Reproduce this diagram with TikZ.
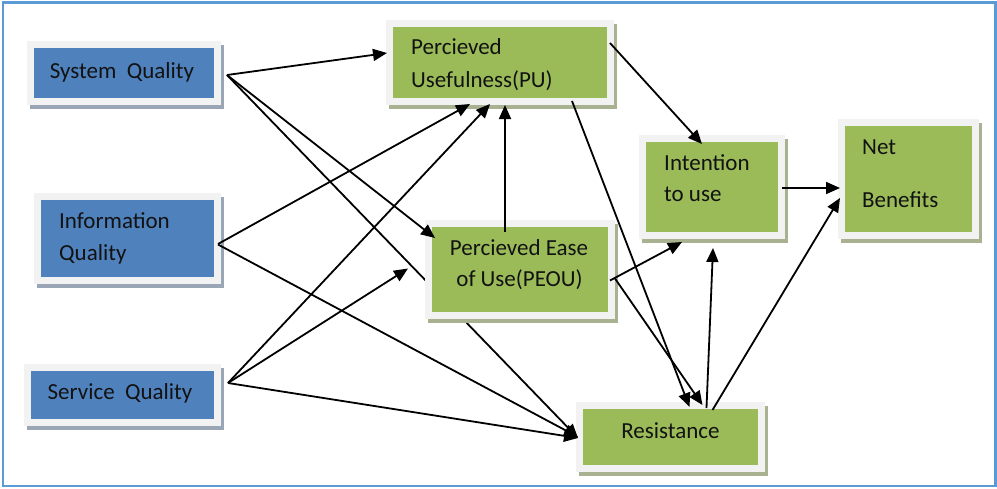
\documentclass[tikz,border=0pt]{standalone}
\usepackage{fontspec}
\setmainfont{Carlito}
\usetikzlibrary{arrows.meta,calc,backgrounds}
\definecolor{bluefill}{HTML}{4F81BD}
\definecolor{greenfill}{HTML}{9BBB59}
\definecolor{framec}{HTML}{F2F2F2}
\definecolor{blueshadow}{HTML}{9AA5B5}
\definecolor{greenshadow}{HTML}{A8B290}
\definecolor{borderc}{HTML}{5B9BD5}
\definecolor{txtc}{HTML}{121212}
\tikzset{
  boxbase/.style={rectangle, inner sep=0pt, line width=7pt, draw=framec},
  bluebox/.style={boxbase, fill=bluefill,
    preaction={draw=blueshadow, fill=blueshadow, line width=7pt, transform canvas={shift={(3pt,-3.5pt)}}}},
  greenbox/.style={boxbase, fill=greenfill,
    preaction={draw=greenshadow, fill=greenshadow, line width=7pt, transform canvas={shift={(3pt,-3.5pt)}}}},
  txt/.style={inner sep=0pt, text=txtc, font=\fontsize{23}{27}\selectfont, text height=0.66em, text depth=0pt, yshift=-3pt},
  arr/.style={line width=1.8pt, -{Triangle[length=14pt,width=12pt]}},
}
\begin{document}
\begin{tikzpicture}[x=1pt,y=-1pt]
\useasboundingbox (0,0) rectangle (997,488);

\begin{pgfonlayer}{background}
\fill[white] (0,0) rectangle (997,488);
\end{pgfonlayer}
\draw[borderc, line width=2.5pt] (3,2.5) rectangle (995.5,486);

% boxes (path = inner fill expanded by 3.5)
\node[bluebox, minimum width=187pt, minimum height=57pt] (sq) at (124,73) {};
\node[bluebox, minimum width=180pt, minimum height=84pt] (iq) at (127.5,238.5) {};
\node[bluebox, minimum width=190pt, minimum height=55pt] (svq) at (122.5,395) {};
\node[greenbox, minimum width=221pt, minimum height=78pt] (pu) at (500,62.5) {};
\node[greenbox, minimum width=134pt, minimum height=113pt] (net) at (908.5,179) {};
\node[greenbox, minimum width=139pt, minimum height=97pt] (int) at (712,187) {};
\node[greenbox, minimum width=182pt, minimum height=63pt] (res) at (670.5,437) {};
% connector passing behind PEOU
\draw[arr] ($(sq.east)+(6,2)$) -- ($(res.west)+(2,1)$);
\node[greenbox, minimum width=183pt, minimum height=92pt] (peou) at (520,269.5) {};

% texts
\node[txt] (sqt) at (122,72) {System\ \ Quality};
\node[txt, anchor=west] (iqt1) at (59,222) {Information};
\node[txt, anchor=west] (iqt2) at (59,254) {Quality};
\node[txt] (svqt) at (120,393) {Service\ \ Quality};
\node[txt, anchor=west] (put1) at (411,48) {Percieved};
\node[txt, anchor=west] (put2) at (411,81) {Usefulness(PU)};
\node[txt] (peout1) at (519,249) {Percieved Ease};
\node[txt] (peout2) at (519.5,280) {of Use(PEOU)};
\node[txt, anchor=west] (intt1) at (664,164) {Intention};
\node[txt, anchor=west] (intt2) at (664,195) {to use};
\node[txt, anchor=west] (nett1) at (862,148) {Net};
\node[txt, anchor=west] (nett2) at (862,201) {Benefits};
\node[txt] (rest) at (670.5,432) {Resistance};

% connectors
\draw[arr] ($(sq.east)+(6,2)$) -- ($(pu.west)+(1,-9.5)$);
\draw[arr] ($(sq.east)+(6,2)$) -- ($(peou.north west)+(10,18)$);
\draw[arr] ($(iq.east)+(-3,5.5)$) -- ($(pu.south)+(-30,-1)$);
\draw[arr] ($(iq.east)+(-3,6)$) -- ($(res.west)+(2,0)$);
\draw[arr] ($(svq.east)+(7,-12)$) -- ($(pu.south)+(-10,-1)$);
\draw[arr] ($(svq.east)+(7,-12)$) -- ($(peou.west)+(-17,-1)$);
\draw[arr] ($(svq.east)+(7,-12)$) -- ($(res.west)+(2,1)$);
\draw[arr] ($(peou.north)+(-15,12)$) -- ($(pu.south)+(5,0)$);
\draw[arr] ($(pu.north east)+(-4,23)$) -- ($(int.north)+(-10,9)$);
\draw[arr] ($(pu.south)+(72,-4)$) -- ($(res.north)+(19,5)$);
\draw[arr] ($(peou.east)+(-5,11)$) -- ($(int.south)+(-30,3)$);
\draw[arr] ($(peou.east)+(0,9)$) -- ($(res.north)+(32,3)$);
\draw[arr] ($(res.north)+(36,6)$) -- ($(int.south)+(1,9)$);
\draw[arr] ($(res.north)+(42,8)$) -- ($(net.west)+(2,19)$);
\draw[arr] ($(int.east)+(-3,1)$) -- ($(net.west)+(2,9)$);
\end{tikzpicture}
\end{document}
